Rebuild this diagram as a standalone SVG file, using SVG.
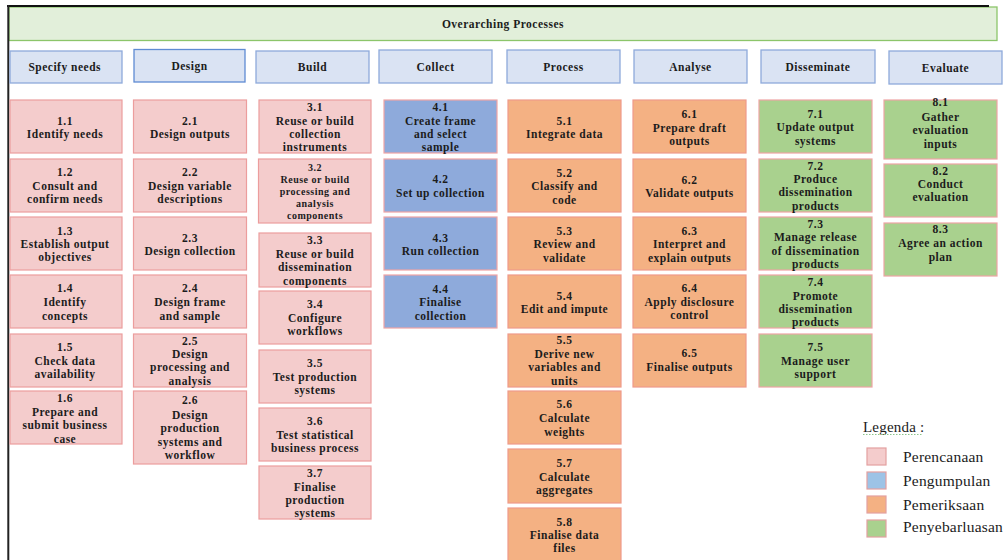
<svg xmlns="http://www.w3.org/2000/svg" width="1006" height="560" viewBox="0 0 1006 560">
<style>
text{font-family:"Liberation Serif","Times New Roman",serif;fill:#1c1c1c}
.t{font-size:11.5px;font-weight:bold;letter-spacing:0.5px;text-anchor:middle}
.ts{font-size:10px;font-weight:bold;letter-spacing:0.5px;text-anchor:middle}
.lg{font-size:15.5px;letter-spacing:0.2px}
.hd{fill:#dae3f3;stroke:#8eaadb;stroke-width:1.3}
.pk{fill:#f4cccc;stroke:#ec9d9d;stroke-width:1.2}
.bl{fill:#8eaadb;stroke:#f0a4a4;stroke-width:1.2}
.or{fill:#f4b183;stroke:#ee9a8a;stroke-width:1.2}
.gr{fill:#a9d18e;stroke:#eea4a4;stroke-width:1.2}
.sq{stroke:#e3a0a0;stroke-width:1.2}
</style>
<rect width="1006" height="560" fill="#ffffff"/>
<g id="overarching">
<rect x="9" y="7" width="988" height="33.5" fill="#e2efda" stroke="#8cc56a" stroke-width="1.3"/>
<text class="t" x="503" y="28">Overarching Processes</text>
</g>
<g id="frame">
<line x1="7" y1="6" x2="989" y2="6" stroke="#111" stroke-width="2"/>
<line x1="8.3" y1="5" x2="8.3" y2="560" stroke="#222" stroke-width="2"/>
</g>
<g id="headers">
<g id="h1"><rect class="hd" x="10" y="51" width="112" height="32"/><text class="t" x="64.7" y="71.3">Specify needs</text></g>
<g id="h2"><rect class="hd" x="134" y="49.5" width="111" height="32.5" style="stroke:#5f8bd3"/><text class="t" x="189.5" y="70">Design</text></g>
<g id="h3"><rect class="hd" x="256" y="51" width="113" height="32"/><text class="t" x="312.5" y="71.3">Build</text></g>
<g id="h4"><rect class="hd" x="379" y="50" width="113" height="33"/><text class="t" x="435.5" y="71">Collect</text></g>
<g id="h5"><rect class="hd" x="507" y="50" width="113" height="33"/><text class="t" x="563.5" y="71">Process</text></g>
<g id="h6"><rect class="hd" x="634" y="50" width="113" height="33"/><text class="t" x="690.5" y="70.7">Analyse</text></g>
<g id="h7"><rect class="hd" x="761" y="50" width="114" height="33"/><text class="t" x="818" y="70.7">Disseminate</text></g>
<g id="h8"><rect class="hd" x="889" y="51" width="113" height="33"/><text class="t" x="945.5" y="72.3">Evaluate</text></g>
</g>
<g id="n1-1"><rect class="pk" x="10" y="100" width="112" height="53"/><text class="t"><tspan x="65" y="124.7">1.1</tspan><tspan x="65" y="138">Identify needs</tspan></text></g>
<g id="n1-2"><rect class="pk" x="10" y="159" width="112" height="53"/><text class="t"><tspan x="65" y="176.3">1.2</tspan><tspan x="65" y="189.7">Consult and</tspan><tspan x="65" y="203">confirm needs</tspan></text></g>
<g id="n1-3"><rect class="pk" x="10" y="217" width="112" height="53"/><text class="t"><tspan x="65" y="234.7">1.3</tspan><tspan x="65" y="248">Establish output</tspan><tspan x="65" y="261.3">objectives</tspan></text></g>
<g id="n1-4"><rect class="pk" x="10" y="275" width="112" height="53"/><text class="t"><tspan x="65" y="292.3">1.4</tspan><tspan x="65" y="306.3">Identify</tspan><tspan x="65" y="319.7">concepts</tspan></text></g>
<g id="n1-5"><rect class="pk" x="10" y="334" width="112" height="53"/><text class="t"><tspan x="65" y="350.7">1.5</tspan><tspan x="65" y="364.7">Check data</tspan><tspan x="65" y="378">availability</tspan></text></g>
<g id="n1-6"><rect class="pk" x="10" y="391" width="112" height="53"/><text class="t"><tspan x="65" y="402">1.6</tspan><tspan x="65" y="416">Prepare and</tspan><tspan x="65" y="429">submit business</tspan><tspan x="65" y="443">case</tspan></text></g>
<g id="n2-1"><rect class="pk" x="133.5" y="100" width="113" height="53"/><text class="t"><tspan x="190" y="124.7">2.1</tspan><tspan x="190" y="138">Design outputs</tspan></text></g>
<g id="n2-2"><rect class="pk" x="133.5" y="159" width="113" height="53"/><text class="t"><tspan x="190" y="176.3">2.2</tspan><tspan x="190" y="189.7">Design variable</tspan><tspan x="190" y="203">descriptions</tspan></text></g>
<g id="n2-3"><rect class="pk" x="133.5" y="217" width="113" height="53"/><text class="t"><tspan x="190" y="241.7">2.3</tspan><tspan x="190" y="255">Design collection</tspan></text></g>
<g id="n2-4"><rect class="pk" x="133.5" y="275" width="113" height="53"/><text class="t"><tspan x="190" y="292.3">2.4</tspan><tspan x="190" y="306.3">Design frame</tspan><tspan x="190" y="319.7">and sample</tspan></text></g>
<g id="n2-5"><rect class="pk" x="133.5" y="334" width="113" height="53"/><text class="t"><tspan x="190" y="344.7">2.5</tspan><tspan x="190" y="358">Design</tspan><tspan x="190" y="371.3">processing and</tspan><tspan x="190" y="384.7">analysis</tspan></text></g>
<g id="n2-6"><rect class="pk" x="133.5" y="391" width="113" height="73"/><text class="t"><tspan x="190" y="404">2.6</tspan><tspan x="190" y="419">Design</tspan><tspan x="190" y="432">production</tspan><tspan x="190" y="446">systems and</tspan><tspan x="190" y="459">workflow</tspan></text></g>
<g id="n3-1"><rect class="pk" x="259" y="100" width="112" height="53"/><text class="t"><tspan x="315" y="111.4">3.1</tspan><tspan x="315" y="124.7">Reuse or build</tspan><tspan x="315" y="138">collection</tspan><tspan x="315" y="151.3">instruments</tspan></text></g>
<g id="n3-2"><rect class="pk" x="258.5" y="159" width="112.5" height="64"/><text class="ts"><tspan x="315" y="171.2">3.2</tspan><tspan x="315" y="182.8">Reuse or build</tspan><tspan x="315" y="194.8">processing and</tspan><tspan x="315" y="206.8">analysis</tspan><tspan x="315" y="218.8">components</tspan></text></g>
<g id="n3-3"><rect class="pk" x="259" y="233" width="112" height="54"/><text class="t"><tspan x="315" y="244">3.3</tspan><tspan x="315" y="258">Reuse or build</tspan><tspan x="315" y="271.3">dissemination</tspan><tspan x="315" y="285">components</tspan></text></g>
<g id="n3-4"><rect class="pk" x="259" y="291" width="112" height="53"/><text class="t"><tspan x="315" y="308.3">3.4</tspan><tspan x="315" y="322.3">Configure</tspan><tspan x="315" y="334.7">workflows</tspan></text></g>
<g id="n3-5"><rect class="pk" x="259" y="350" width="112" height="53"/><text class="t"><tspan x="315" y="366.7">3.5</tspan><tspan x="315" y="380.7">Test production</tspan><tspan x="315" y="394">systems</tspan></text></g>
<g id="n3-6"><rect class="pk" x="259" y="408" width="112" height="53"/><text class="t"><tspan x="315" y="424.7">3.6</tspan><tspan x="315" y="439">Test statistical</tspan><tspan x="315" y="452.3">business process</tspan></text></g>
<g id="n3-7"><rect class="pk" x="259" y="466" width="112" height="53"/><text class="t"><tspan x="315" y="476.7">3.7</tspan><tspan x="315" y="490.7">Finalise</tspan><tspan x="315" y="504">production</tspan><tspan x="315" y="517.3">systems</tspan></text></g>
<g id="n4-1"><rect class="bl" x="384" y="100" width="113" height="53"/><text class="t"><tspan x="440.5" y="111.4">4.1</tspan><tspan x="440.5" y="124.7">Create frame</tspan><tspan x="440.5" y="138">and select</tspan><tspan x="440.5" y="151.3">sample</tspan></text></g>
<g id="n4-2"><rect class="bl" x="384" y="159" width="113" height="53"/><text class="t"><tspan x="440.5" y="183.3">4.2</tspan><tspan x="440.5" y="196.7">Set up collection</tspan></text></g>
<g id="n4-3"><rect class="bl" x="384" y="217" width="113" height="53"/><text class="t"><tspan x="440.5" y="241.7">4.3</tspan><tspan x="440.5" y="255">Run collection</tspan></text></g>
<g id="n4-4"><rect class="bl" x="384" y="275" width="113" height="53"/><text class="t"><tspan x="440.5" y="293">4.4</tspan><tspan x="440.5" y="306.3">Finalise</tspan><tspan x="440.5" y="319.6">collection</tspan></text></g>
<g id="n5-1"><rect class="or" x="508" y="100" width="113" height="53"/><text class="t"><tspan x="564.5" y="124.7">5.1</tspan><tspan x="564.5" y="138">Integrate data</tspan></text></g>
<g id="n5-2"><rect class="or" x="508" y="159" width="113" height="53"/><text class="t"><tspan x="564.5" y="177">5.2</tspan><tspan x="564.5" y="190.3">Classify and</tspan><tspan x="564.5" y="203.6">code</tspan></text></g>
<g id="n5-3"><rect class="or" x="508" y="217" width="113" height="53"/><text class="t"><tspan x="564.5" y="235">5.3</tspan><tspan x="564.5" y="248.3">Review and</tspan><tspan x="564.5" y="261.6">validate</tspan></text></g>
<g id="n5-4"><rect class="or" x="508" y="275" width="113" height="53"/><text class="t"><tspan x="564.5" y="299.7">5.4</tspan><tspan x="564.5" y="313">Edit and impute</tspan></text></g>
<g id="n5-5"><rect class="or" x="508" y="334" width="113" height="53"/><text class="t"><tspan x="564.5" y="344">5.5</tspan><tspan x="564.5" y="358">Derive new</tspan><tspan x="564.5" y="371.3">variables and</tspan><tspan x="564.5" y="384.7">units</tspan></text></g>
<g id="n5-6"><rect class="or" x="508" y="391" width="113" height="53"/><text class="t"><tspan x="564.5" y="408.3">5.6</tspan><tspan x="564.5" y="422.3">Calculate</tspan><tspan x="564.5" y="435.7">weights</tspan></text></g>
<g id="n5-7"><rect class="or" x="508" y="449" width="113" height="54"/><text class="t"><tspan x="564.5" y="467.3">5.7</tspan><tspan x="564.5" y="481">Calculate</tspan><tspan x="564.5" y="494.3">aggregates</tspan></text></g>
<g id="n5-8"><rect class="or" x="508" y="508" width="113" height="58"/><text class="t"><tspan x="564.5" y="525.7">5.8</tspan><tspan x="564.5" y="539">Finalise data</tspan><tspan x="564.5" y="552.3">files</tspan></text></g>
<g id="n6-1"><rect class="or" x="633" y="100" width="113" height="53"/><text class="t"><tspan x="689.5" y="118">6.1</tspan><tspan x="689.5" y="131.7">Prepare draft</tspan><tspan x="689.5" y="144.7">outputs</tspan></text></g>
<g id="n6-2"><rect class="or" x="633" y="159" width="113" height="53"/><text class="t"><tspan x="689.5" y="183.7">6.2</tspan><tspan x="689.5" y="197">Validate outputs</tspan></text></g>
<g id="n6-3"><rect class="or" x="633" y="217" width="113" height="53"/><text class="t"><tspan x="689.5" y="235">6.3</tspan><tspan x="689.5" y="248.3">Interpret  and</tspan><tspan x="689.5" y="261.6">explain outputs</tspan></text></g>
<g id="n6-4"><rect class="or" x="633" y="275" width="113" height="53"/><text class="t"><tspan x="689.5" y="292.3">6.4</tspan><tspan x="689.5" y="306.3">Apply  disclosure</tspan><tspan x="689.5" y="319">control</tspan></text></g>
<g id="n6-5"><rect class="or" x="633" y="334" width="113" height="53"/><text class="t"><tspan x="689.5" y="357.3">6.5</tspan><tspan x="689.5" y="371.3">Finalise outputs</tspan></text></g>
<g id="n7-1"><rect class="gr" x="759" y="100" width="113" height="53"/><text class="t"><tspan x="815.5" y="118">7.1</tspan><tspan x="815.5" y="131.3">Update output</tspan><tspan x="815.5" y="144.6">systems</tspan></text></g>
<g id="n7-2"><rect class="gr" x="759" y="159" width="113" height="53"/><text class="t"><tspan x="815.5" y="169.7">7.2</tspan><tspan x="815.5" y="183">Produce</tspan><tspan x="815.5" y="196.3">dissemination</tspan><tspan x="815.5" y="209.7">products</tspan></text></g>
<g id="n7-3"><rect class="gr" x="759" y="217" width="113" height="53"/><text class="t"><tspan x="815.5" y="228">7.3</tspan><tspan x="815.5" y="241.3">Manage release</tspan><tspan x="815.5" y="254.6">of dissemination</tspan><tspan x="815.5" y="268">products</tspan></text></g>
<g id="n7-4"><rect class="gr" x="759" y="275" width="113" height="53"/><text class="t"><tspan x="815.5" y="285.7">7.4</tspan><tspan x="815.5" y="299.7">Promote</tspan><tspan x="815.5" y="312.7">dissemination</tspan><tspan x="815.5" y="326.3">products</tspan></text></g>
<g id="n7-5"><rect class="gr" x="759" y="334" width="113" height="53"/><text class="t"><tspan x="815.5" y="350.7">7.5</tspan><tspan x="815.5" y="364.7">Manage user</tspan><tspan x="815.5" y="378">support</tspan></text></g>
<g id="n8-1"><rect class="gr" x="884" y="100" width="113" height="59"/><text class="t"><tspan x="940.5" y="106.3">8.1</tspan><tspan x="940.5" y="120.7">Gather</tspan><tspan x="940.5" y="134">evaluation</tspan><tspan x="940.5" y="148">inputs</tspan></text></g>
<g id="n8-2"><rect class="gr" x="884" y="164" width="113" height="53"/><text class="t"><tspan x="940.5" y="174.7">8.2</tspan><tspan x="940.5" y="188.3">Conduct</tspan><tspan x="940.5" y="201.3">evaluation</tspan></text></g>
<g id="n8-3"><rect class="gr" x="884" y="223" width="113" height="53"/><text class="t"><tspan x="940.5" y="233.3">8.3</tspan><tspan x="940.5" y="247.3">Agree an action</tspan><tspan x="940.5" y="260.7">plan</tspan></text></g>
<g id="connectors"></g>
<g id="legend">
<text class="lg" x="863" y="432" style="font-size:15px">Legenda :</text>
<line x1="863" y1="434.5" x2="923" y2="434.5" stroke="#8cc58c" stroke-width="1" stroke-dasharray="1.5,1.5"/>
<rect class="sq" x="867" y="448" width="19" height="17" fill="#f4cccc"/>
<rect class="sq" x="867" y="472" width="19" height="17" fill="#9dc3e6"/>
<rect class="sq" x="867" y="496" width="19" height="17" fill="#f4b183"/>
<rect class="sq" x="867" y="520" width="19" height="17" fill="#a9d18e"/>
<text class="lg" x="903" y="462">Perencanaan</text>
<text class="lg" x="903" y="486">Pengumpulan</text>
<text class="lg" x="903" y="509.5">Pemeriksaan</text>
<text class="lg" x="903" y="532">Penyebarluasan</text>
</g>
</svg>
